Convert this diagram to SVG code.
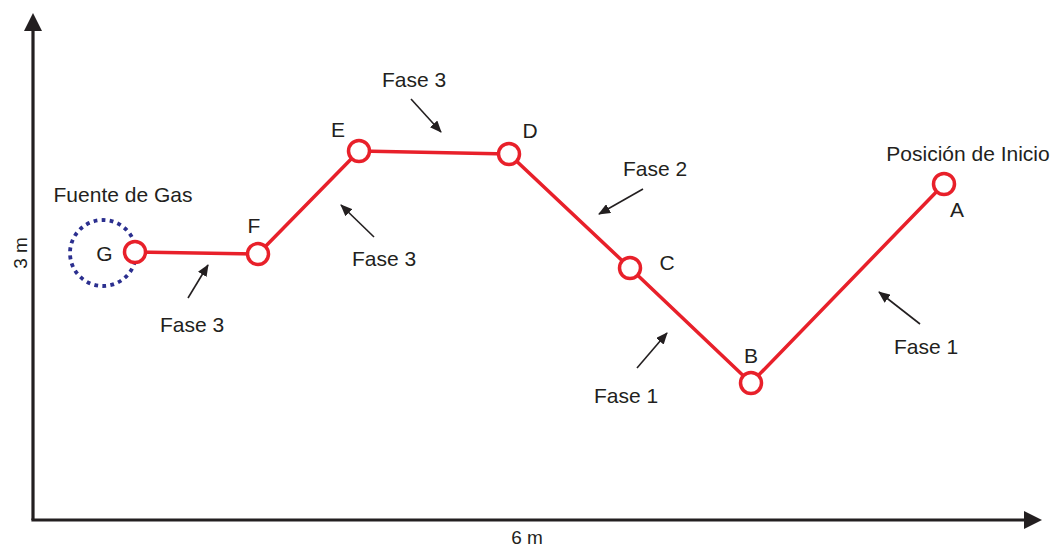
<svg xmlns="http://www.w3.org/2000/svg" width="1053" height="547" viewBox="0 0 1053 547">
<defs>
<style>
text{font-family:"Liberation Sans",Arial,sans-serif;font-size:21px;fill:#231f20}
.axis{stroke:#231f20;stroke-width:3.2;fill:none}
.path{stroke:#e8202a;stroke-width:3.5;fill:none;stroke-linejoin:round}
.node{stroke:#e8202a;stroke-width:3.5;fill:#fff}
.ptr{stroke:#231f20;stroke-width:1.6;fill:none}
</style>
<marker id="ah" viewBox="0 0 12 10" refX="11" refY="5" markerWidth="12" markerHeight="10" markerUnits="userSpaceOnUse" orient="auto">
<path d="M0,0 L12,5 L0,10 Z" fill="#231f20"/>
</marker>
</defs>
<g id="axes">
<line class="axis" x1="33" y1="520" x2="33" y2="28"/>
<path d="M33,13 L24,31 L42,31 Z" fill="#231f20"/>
<line class="axis" x1="31.4" y1="520" x2="1027" y2="520"/>
<path d="M1042,520 L1024,511 L1024,529 Z" fill="#231f20"/>
<text x="527" y="544" text-anchor="middle" style="font-size:19px">6 m</text>
<text transform="translate(27,253) rotate(-90)" text-anchor="middle" style="font-size:19px">3 m</text>
</g>
<g id="gas-source">
<circle cx="103" cy="253" r="33" fill="none" stroke="#2b2f8f" stroke-width="3.8" stroke-dasharray="3.8 4.3"/>
<text x="123" y="202" text-anchor="middle">Fuente de Gas</text>
</g>
<g id="connectors">
<polyline class="path" points="135,252 258,254 359,151 509,154 630,268 751,383 944,184"/>
<line class="ptr" x1="188" y1="298" x2="208" y2="265" marker-end="url(#ah)"/>
<line class="ptr" x1="374" y1="237" x2="341" y2="205" marker-end="url(#ah)"/>
<line class="ptr" x1="411" y1="99" x2="441" y2="132" marker-end="url(#ah)"/>
<line class="ptr" x1="643" y1="189" x2="599" y2="214" marker-end="url(#ah)"/>
<line class="ptr" x1="637" y1="368" x2="667" y2="333" marker-end="url(#ah)"/>
<line class="ptr" x1="920" y1="324" x2="879" y2="292" marker-end="url(#ah)"/>
</g>
<g id="node-G"><circle class="node" cx="135" cy="252" r="10.5"/><text x="104.5" y="261" text-anchor="middle">G</text></g>
<g id="node-F"><circle class="node" cx="258" cy="254" r="10.5"/><text x="254" y="233" text-anchor="middle">F</text></g>
<g id="node-E"><circle class="node" cx="359" cy="151" r="10.5"/><text x="338" y="137" text-anchor="middle">E</text></g>
<g id="node-D"><circle class="node" cx="509" cy="154" r="10.5"/><text x="530" y="138" text-anchor="middle">D</text></g>
<g id="node-C"><circle class="node" cx="630" cy="268" r="10.5"/><text x="667" y="270" text-anchor="middle">C</text></g>
<g id="node-B"><circle class="node" cx="751" cy="383" r="10.5"/><text x="751" y="363" text-anchor="middle">B</text></g>
<g id="node-A"><circle class="node" cx="944" cy="184" r="10.5"/><text x="957" y="217" text-anchor="middle">A</text></g>
<g id="labels">
<text x="968" y="161" text-anchor="middle">Posición de Inicio</text>
<text x="414" y="87" text-anchor="middle">Fase 3</text>
<text x="384" y="266" text-anchor="middle">Fase 3</text>
<text x="192" y="332" text-anchor="middle">Fase 3</text>
<text x="655" y="176" text-anchor="middle">Fase 2</text>
<text x="626" y="403" text-anchor="middle">Fase 1</text>
<text x="926" y="354" text-anchor="middle">Fase 1</text>
</g>
</svg>
